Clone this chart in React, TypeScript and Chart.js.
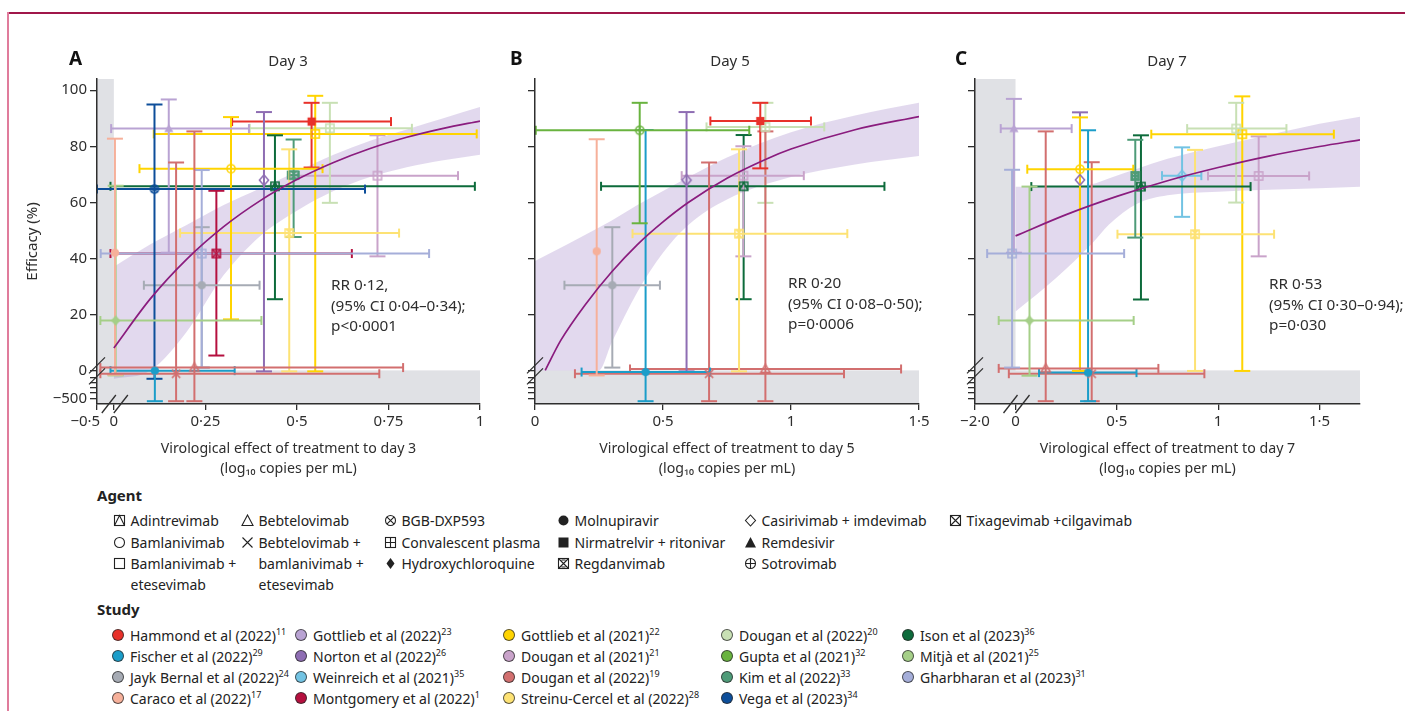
import React, { useEffect, useRef } from 'react';
import { Chart, registerables } from 'chart.js';
Chart.register(...registerables);

const FONT = "'Noto Sans', 'DejaVu Sans', sans-serif";
const INK = '#2e2e2e';
const GREY = '#e0e1e5';
const BAND = 'rgba(150,120,195,0.28)';
const CURVE = '#8a1c7e';

// ---------- legend data ----------
const STUDY_NAMES = [
  'Hammond et al (2022)', 'Fischer et al (2022)', 'Jayk Bernal et al (2022)', 'Caraco et al (2022)',
  'Gottlieb et al (2022)', 'Norton et al (2022)', 'Weinreich et al (2021)', 'Montgomery et al (2022)',
  'Gottlieb et al (2021)', 'Dougan et al (2021)', 'Dougan et al (2022)', 'Streinu-Cercel et al (2022)',
  'Dougan et al (2022)', 'Gupta et al (2021)', 'Kim et al (2022)', 'Vega et al (2023)',
  'Ison et al (2023)', 'Mitjà et al (2021)', 'Gharbharan et al (2023)',
];
const STUDY_REFS = ['11', '29', '24', '17', '23', '26', '35', '1', '22', '21', '19', '28', '20', '32', '33', '34', '36', '25', '31'];
const STUDY_COLORS = [
  '#e8312a', '#1b9dc9', '#a6abb4', '#f6b09a',
  '#b9a3d3', '#8e6db3', '#72c3e3', '#b5103f',
  '#ffd400', '#c9a3ca', '#d26f6f', '#fde274',
  '#c8e0b4', '#69b33f', '#4e9b78', '#0d4e9a',
  '#0d6b3b', '#a5cf88', '#a5aed9',
];

const AGENT_NAMES = [
  'Adintrevimab', 'Bamlanivimab', 'Bamlanivimab +\netesevimab', 'Bebtelovimab',
  'Bebtelovimab +\nbamlanivimab +\netesevimab', 'BGB-DXP593', 'Convalescent plasma', 'Hydroxychloroquine',
  'Molnupiravir', 'Nirmatrelvir + ritonivar', 'Regdanvimab', 'Casirivimab + imdevimab',
  'Remdesivir', 'Sotrovimab', 'Tixagevimab +cilgavimab',
];
const AGENT_MARKERS = [
  'adin', 'circleOpen', 'squareOpen', 'triOpen', 'x', 'bgb', 'plasma', 'diamondFill',
  'circleFill', 'squareFill', 'regdan', 'diamondOpen', 'triFill', 'sotro', 'tixa',
];

// ---------- Day 3 ----------
const DAY3_STUDY = [10, 10, 3, 17, 1, 15, 4, 18, 2, 7, 8, 5, 16, 11, 14, 0, 8, 12, 9];
const DAY3_AGENT = [4, 3, 8, 7, 8, 5, 12, 6, 8, 14, 1, 11, 0, 10, 10, 9, 2, 2, 2];
const DAY3_X = [0.17, 0.22, 0.003, 0.005, 0.112, 0.111, 0.15, 0.24, 0.24, 0.28, 0.32, 0.41, 0.44, 0.479, 0.491, 0.54, 0.55, 0.59, 0.72];
const DAY3_Y = [-60, 1, 42, 17.8, -5, 64.7, 86.3, 41.7, 30.4, 41.7, 72, 67.9, 65.7, 49, 69.7, 88.8, 84.4, 86.4, 69.5];
const DAY3_X_LO = [-0.4, -0.4, null, -0.4, -0.1, -0.5, -0.08, -0.39, 0.082, -0.1, 0.07, null, -0.1, 0.181, 0.475, 0.323, 0.109, 0.371, 0.48];
const DAY3_X_HI = [0.725, 0.79, null, 0.403, 0.33, 0.686, 0.369, 0.861, 0.398, 0.65, 0.57, null, 0.986, 0.779, 0.505, 0.757, 0.991, 0.814, 0.94];
const DAY3_Y_LO = [-550, -550, -77, -90, -550, -150, 42, 1, 1, 5.3, 18.2, -18, 25.4, -18, 47.6, 72.4, -18, 59.8, 40.7];
const DAY3_Y_HI = [74.2, 85.3, 82.7, 65.9, null, 94.9, 96.7, 71.5, 51.1, 64.1, 90.4, 92.2, 83.9, 78.9, 82.4, 95.5, 98, 95.5, 83.9];
const DAY3_FIT_X = [0, 0.1, 0.2, 0.3, 0.4, 0.5, 0.6, 0.7, 0.8, 0.9, 1];
const DAY3_FIT = [8, 25.6, 39.8, 51.3, 60.6, 68.1, 74.2, 79.2, 83.2, 86.4, 89];
const DAY3_CI_X = [0, 0.1, 0.2, 0.3, 0.4, 0.5, 0.6, 0.7, 0.8, 0.9, 1];
const DAY3_CI_HI = [37, 45, 52, 59, 65, 71, 77, 82, 86, 90, 94];
const DAY3_CI_LO = [-150, 0, 14, 34, 48, 57, 64, 69, 72.5, 75, 77];
const DAY3_X_TICKS = [-0.5, 0, 0.25, 0.5, 0.75, 1];
const DAY3_X_LABELS = ['−0·5      ', '0', '0·25', '0·5', '0·75', '1'];

// ---------- Day 5 ----------
const DAY5_STUDY = [3, 2, 13, 1, 5, 10, 11, 9, 16, 0, 10, 12];
const DAY5_AGENT = [8, 8, 13, 8, 11, 4, 10, 2, 0, 9, 3, 2];
const DAY5_X = [0.241, 0.302, 0.409, 0.432, 0.592, 0.68, 0.797, 0.814, 0.815, 0.88, 0.9, 0.9];
const DAY5_Y = [42.5, 30.4, 85.7, -30, 67.9, -60, 48.8, 69.5, 65.7, 89, 0.5, 86.9];
const DAY5_X_LO = [null, 0.115, 0.003, 0.182, null, 0.156, 0.381, 0.573, 0.258, 0.685, 0.371, 0.67];
const DAY5_X_HI = [null, 0.488, 0.837, 0.684, null, 1.207, 1.22, 1.05, 1.365, 1.078, 1.43, 1.13];
const DAY5_Y_LO = [-90, 1, 52.5, -550, -18, -550, -18, 40.7, 25.4, 72.1, -550, 59.8];
const DAY5_Y_HI = [82.5, 51.1, 95.5, 85.8, 92.2, 74.2, 78.9, 80, 84, 95.5, 85.3, 95.5];
const DAY5_FIT_X = [0.04, 0.1, 0.2, 0.3, 0.4, 0.5, 0.6, 0.75, 0.9, 1, 1.25, 1.5];
const DAY5_FIT = [0, 10.6, 23.9, 35.2, 44.9, 53, 60, 68.6, 75.3, 79, 85.9, 90.6];
const DAY5_CI_X = [0, 0.25, 0.3, 0.4, 0.5, 0.6, 0.75, 1, 1.25, 1.5];
const DAY5_CI_HI = [39, 51, 53.5, 59, 64, 69, 76, 85, 91, 95.5];
const DAY5_CI_LO = [0, 0, 10, 28, 42, 52, 61, 69, 73.5, 76.5];
const DAY5_X_TICKS = [0, 0.5, 1, 1.5];
const DAY5_X_LABELS = ['0', '0·5', '1', '1·5'];

// ---------- Day 7 ----------
const DAY7_STUDY = [18, 4, 17, 10, 8, 5, 1, 10, 14, 16, 6, 11, 12, 8, 9];
const DAY7_AGENT = [6, 12, 7, 3, 1, 11, 8, 4, 10, 0, 11, 10, 2, 2, 2];
const DAY7_X = [-0.17, -0.08, 0.069, 0.149, 0.318, 0.318, 0.358, 0.376, 0.591, 0.619, 0.822, 0.886, 1.089, 1.119, 1.2];
const DAY7_Y = [41.7, 86.3, 17.8, 0.7, 71.8, 68, -40, -60, 69.4, 65.6, 69.5, 48.6, 86.3, 84.3, 69.4];
const DAY7_X_LO = [-1.4, -0.73, -0.83, -0.83, 0.058, null, 0.116, -0.33, 0.575, 0.078, 0.723, 0.503, 0.847, 0.67, 0.95];
const DAY7_X_HI = [0.536, 0.277, 0.583, 0.705, 0.581, null, 0.597, 0.932, 0.605, 1.16, 0.917, 1.276, 1.337, 1.571, 1.449];
const DAY7_Y_LO = [1, 42, -95, -550, -10, -10, -550, -550, 47.4, 25.3, 54.8, -10, 59.9, -10, 40.7];
const DAY7_Y_HI = [71.6, 96.9, 65.6, 85.3, 90.3, 92.1, 85.7, 74.3, 82.3, 83.9, 79.6, 78.7, 95.5, 97.8, 83.5];
const DAY7_FIT_X = [0, 0.25, 0.5, 0.75, 1, 1.25, 1.5, 1.7];
const DAY7_FIT = [48, 55.6, 62.1, 67.7, 72.4, 76.5, 79.9, 82.3];
const DAY7_CI_X = [0, 0.2, 0.38, 0.46, 0.6, 0.75, 1, 1.25, 1.5, 1.7];
const DAY7_CI_HI = [65.5, 65.6, 66.5, 68.5, 72, 75.5, 80, 84, 88, 90.5];
const DAY7_CI_LO = [21, 33, 45.5, 52, 59.5, 62.5, 63.8, 64.5, 65, 65.5];
const DAY7_X_TICKS = [-2.0, 0, 0.5, 1, 1.5];
const DAY7_X_LABELS = ['−2·0', '0', '0·5', '1', '1·5'];

// ---------- shared y axis ----------
const Y_TICKS = [-500, -405, -315, -225, -135, 0, 20, 40, 60, 80, 100];
const Y_TICK_LABELS = ['−500', '', '', '', '', '0', '20', '40', '60', '80', '100'];

type Arr = (number | null)[];
interface PanelCfg {
  letter: string; day: string; dayNum: number; rr: string[];
  study: number[]; agent: number[]; x: number[]; y: number[];
  xLo: Arr; xHi: Arr; yLo: Arr; yHi: Arr;
  fitX: number[]; fit: number[]; ciX: number[]; ciHi: number[]; ciLo: number[];
  xTicks: number[]; xLabels: string[];
  left: number; width: number; yAxisW: number; padRight: number; xMax: number; negScale: number;
  vertGrey: boolean; xBreak: boolean; yLabels: boolean; letterX: number; dayX: number; rrX: number; rrY: number;
}

const PANELS: PanelCfg[] = [
  {
    letter: 'A', day: 'Day 3', dayNum: 3, rr: ['RR 0·12,', '(95% CI 0·04–0·34);', 'p<0·0001'],
    study: DAY3_STUDY, agent: DAY3_AGENT, x: DAY3_X, y: DAY3_Y, xLo: DAY3_X_LO, xHi: DAY3_X_HI, yLo: DAY3_Y_LO, yHi: DAY3_Y_HI,
    fitX: DAY3_FIT_X, fit: DAY3_FIT, ciX: DAY3_CI_X, ciHi: DAY3_CI_HI, ciLo: DAY3_CI_LO,
    xTicks: DAY3_X_TICKS, xLabels: DAY3_X_LABELS,
    left: 20, width: 475, yAxisW: 77, padRight: 15, xMax: 1, negScale: 0.092,
    vertGrey: true, xBreak: true, yLabels: true, letterX: 77, dayX: 288, rrX: 331, rrY: 274,
  },
  {
    letter: 'B', day: 'Day 5', dayNum: 5, rr: ['RR 0·20', '(95% CI 0·08–0·50);', 'p=0·0006'],
    study: DAY5_STUDY, agent: DAY5_AGENT, x: DAY5_X, y: DAY5_Y, xLo: DAY5_X_LO, xHi: DAY5_X_HI, yLo: DAY5_Y_LO, yHi: DAY5_Y_HI,
    fitX: DAY5_FIT_X, fit: DAY5_FIT, ciX: DAY5_CI_X, ciHi: DAY5_CI_HI, ciLo: DAY5_CI_LO,
    xTicks: DAY5_X_TICKS, xLabels: DAY5_X_LABELS,
    left: 500, width: 435, yAxisW: 35, padRight: 16, xMax: 1.5, negScale: 1,
    vertGrey: false, xBreak: false, yLabels: false, letterX: 518, dayX: 730, rrX: 788, rrY: 272,
  },
  {
    letter: 'C', day: 'Day 7', dayNum: 7, rr: ['RR 0·53', '(95% CI 0·30–0·94);', 'p=0·030'],
    study: DAY7_STUDY, agent: DAY7_AGENT, x: DAY7_X, y: DAY7_Y, xLo: DAY7_X_LO, xHi: DAY7_X_HI, yLo: DAY7_Y_LO, yHi: DAY7_Y_HI,
    fitX: DAY7_FIT_X, fit: DAY7_FIT, ciX: DAY7_CI_X, ciHi: DAY7_CI_HI, ciLo: DAY7_CI_LO,
    xTicks: DAY7_X_TICKS, xLabels: DAY7_X_LABELS,
    left: 940, width: 465, yAxisW: 35, padRight: 45, xMax: 1.7, negScale: 0.1,
    vertGrey: true, xBreak: true, yLabels: false, letterX: 963, dayX: 1167, rrX: 1269, rrY: 273,
  },
];

const CANVAS_TOP = 40;
const CANVAS_H = 440;
const AREA_TOP = 39;
const AREA_BOTTOM = 364;

function makeMarker(kind: string, color: string): HTMLCanvasElement {
  const s = 14;
  const c = document.createElement('canvas');
  c.width = s; c.height = s;
  const g = c.getContext('2d')!;
  g.strokeStyle = color; g.fillStyle = color; g.lineWidth = 1.5;
  const m = s / 2, r = 4.1;
  const line = (x1: number, y1: number, x2: number, y2: number) => { g.beginPath(); g.moveTo(x1, y1); g.lineTo(x2, y2); g.stroke(); };
  const circ = () => { g.beginPath(); g.arc(m, m, r, 0, Math.PI * 2); };
  const tri = () => { g.beginPath(); g.moveTo(m, m - r - 0.5); g.lineTo(m + r + 0.5, m + r - 0.5); g.lineTo(m - r - 0.5, m + r - 0.5); g.closePath(); };
  const dia = () => { g.beginPath(); g.moveTo(m, m - r - 1.2); g.lineTo(m + r + 0.5, m); g.lineTo(m, m + r + 1.2); g.lineTo(m - r - 0.5, m); g.closePath(); };
  switch (kind) {
    case 'circleOpen': circ(); g.stroke(); break;
    case 'circleFill': circ(); g.fill(); break;
    case 'squareOpen': g.strokeRect(m - r, m - r, 2 * r, 2 * r); break;
    case 'squareFill': g.fillRect(m - r, m - r, 2 * r, 2 * r); break;
    case 'triOpen': tri(); g.stroke(); break;
    case 'triFill': tri(); g.fill(); break;
    case 'diamondOpen': dia(); g.stroke(); break;
    case 'diamondFill': dia(); g.fill(); break;
    case 'x': line(m - r, m - r, m + r, m + r); line(m + r, m - r, m - r, m + r); break;
    case 'bgb': circ(); g.stroke(); line(m - 3, m - 3, m + 3, m + 3); line(m + 3, m - 3, m - 3, m + 3); break;
    case 'sotro': circ(); g.stroke(); line(m - r, m, m + r, m); line(m, m - r, m, m + r); break;
    case 'plasma': g.strokeRect(m - r, m - r, 2 * r, 2 * r); line(m - r, m, m + r, m); line(m, m - r, m, m + r); break;
    case 'tixa': g.strokeRect(m - r, m - r, 2 * r, 2 * r); line(m - r, m - r, m + r, m + r); line(m + r, m - r, m - r, m + r); break;
    case 'regdan':
      g.strokeRect(m - r, m - r, 2 * r, 2 * r);
      g.beginPath(); g.moveTo(m - r, m - r); g.lineTo(m + r, m - r); g.lineTo(m, m); g.closePath(); g.fill();
      g.beginPath(); g.moveTo(m - r, m + r); g.lineTo(m + r, m + r); g.lineTo(m, m); g.closePath(); g.fill();
      break;
    case 'adin':
      g.strokeRect(m - r, m - r, 2 * r, 2 * r); line(m - r, m + r, m, m - r); line(m, m - r, m + r, m + r); break;
  }
  return c;
}

function PanelChart({ p }: { p: PanelCfg }) {
  const ref = useRef<HTMLCanvasElement>(null);
  useEffect(() => {
    const cv = ref.current!;
    const xd = (v: number) => (v < 0 ? v * p.negScale : v);
    const yd = (v: number) => (v < 0 ? v / 50 : v);
    const datasets: any[] = [];
    datasets.push({
      type: 'line', data: p.ciX.map((x, i) => ({ x: xd(x), y: yd(p.ciHi[i]) })),
      borderWidth: 0, borderColor: 'transparent', pointRadius: 0, fill: '+1', backgroundColor: BAND,
      cubicInterpolationMode: 'monotone', order: 40,
    });
    datasets.push({
      type: 'line', data: p.ciX.map((x, i) => ({ x: xd(x), y: yd(p.ciLo[i]) })),
      borderWidth: 0, borderColor: 'transparent', pointRadius: 0, fill: false,
      cubicInterpolationMode: 'monotone', order: 41,
    });
    datasets.push({
      type: 'line', data: p.fitX.map((x, i) => ({ x: xd(x), y: yd(p.fit[i]) })),
      borderWidth: 1.7, borderColor: CURVE, pointRadius: 0, fill: false,
      cubicInterpolationMode: 'monotone', order: 1,
    });
    p.study.forEach((s, i) => {
      const col = STUDY_COLORS[s];
      const x = p.x[i], y = p.y[i];
      const xl = p.xLo[i], xh = p.xHi[i], yl = p.yLo[i], yh = p.yHi[i];
      if (xl !== null && xh !== null) {
        datasets.push({
          type: 'scatter', showLine: true, data: [{ x: xd(xl), y: yd(y) }, { x: xd(xh), y: yd(y) }],
          borderColor: col, borderWidth: 2, pointStyle: 'line', pointRotation: 90, pointRadius: 4.5,
          pointBorderWidth: 2, pointBorderColor: col, order: 3, clip: 10,
        });
      }
      if (yl !== null) {
        datasets.push({
          type: 'scatter', showLine: true, data: [{ x: xd(x), y: yd(yl) }, { x: xd(x), y: yd(yh === null ? y : yh) }],
          borderColor: col, borderWidth: 2, pointStyle: 'line', pointRotation: 0, pointRadius: [8, yh === null ? 0 : 8],
          pointBorderWidth: 2, pointBorderColor: col, order: 3, clip: 10,
        });
      }
      datasets.push({
        type: 'scatter', data: [{ x: xd(x), y: yd(y) }], pointStyle: makeMarker(AGENT_MARKERS[p.agent[i]], col),
        pointRadius: 5, order: 2, clip: 10,
      });
    });

    const greyPlugin = {
      id: 'greyRegions',
      beforeDraw(chart: any) {
        const { ctx, chartArea: a, scales } = chart;
        const y0 = scales.y.getPixelForValue(0);
        ctx.save();
        ctx.fillStyle = GREY;
        ctx.fillRect(a.left, y0, a.right - a.left, a.bottom - y0);
        if (p.vertGrey) {
          const x0 = scales.x.getPixelForValue(0);
          ctx.fillRect(a.left, a.top, x0 - a.left, a.bottom - a.top);
        }
        ctx.restore();
      },
    };
    const breakPlugin = {
      id: 'axisBreaks',
      afterDraw(chart: any) {
        const { ctx, chartArea: a, scales } = chart;
        const y0 = scales.y.getPixelForValue(0);
        ctx.save();
        ctx.strokeStyle = INK; ctx.lineWidth = 1.3;
        for (const dy of [-5, 6]) {
          ctx.beginPath(); ctx.moveTo(a.left - 8, y0 + dy + 8); ctx.lineTo(a.left + 8, y0 + dy - 8); ctx.stroke();
        }
        if (p.xBreak) {
          const x0 = scales.x.getPixelForValue(0);
          for (const dx of [-5, 7]) {
            ctx.beginPath(); ctx.moveTo(x0 + dx - 7, a.bottom + 9); ctx.lineTo(x0 + dx + 7, a.bottom - 9); ctx.stroke();
          }
        }
        ctx.restore();
      },
    };

    const chart = new Chart(cv, {
      type: 'scatter',
      data: { datasets },
      plugins: [greyPlugin, breakPlugin],
      options: {
        animation: false, responsive: false, devicePixelRatio: 1, events: [],
        layout: { padding: { top: AREA_TOP, right: p.padRight, left: 0, bottom: 0 } },
        plugins: { legend: { display: false }, tooltip: { enabled: false } },
        scales: {
          x: {
            type: 'linear', min: xd(p.xTicks[0]), max: p.xMax,
            afterBuildTicks: (s: any) => { s.ticks = p.xTicks.map((v) => ({ value: xd(v) })); },
            afterFit: (s: any) => { s.height = CANVAS_H - AREA_BOTTOM; s.paddingLeft = 0; s.paddingRight = 0; },
            ticks: {
              autoSkip: false, maxRotation: 0, minRotation: 0, padding: 3, color: INK,
              font: { size: 15, family: FONT },
              callback: (_v: any, i: number) => p.xLabels[i],
            },
            grid: { display: true, drawOnChartArea: false, drawTicks: true, tickLength: 6, color: INK, lineWidth: 1.3 },
            border: { display: true, color: INK, width: 1.5, z: 1 },
            title: {
              display: true, color: INK,
              text: [`Virological effect of treatment to day ${p.dayNum}`, '(log₁₀ copies per mL)'],
              font: { size: 14.2, family: FONT, lineHeight: 1.42 }, padding: { top: 0, bottom: 1 },
            },
          },
          y: {
            type: 'linear', min: -12, max: 104,
            afterBuildTicks: (s: any) => { s.ticks = Y_TICKS.map((v) => ({ value: yd(v) })); },
            afterFit: (s: any) => { s.width = p.yAxisW; s.paddingTop = 0; s.paddingBottom = 0; },
            ticks: {
              autoSkip: false, padding: 3, color: INK, font: { size: 15, family: FONT },
              callback: (_v: any, i: number) => (p.yLabels ? Y_TICK_LABELS[i] : ''),
            },
            grid: { display: true, drawOnChartArea: false, drawTicks: true, tickLength: 7, color: INK, lineWidth: 1.3 },
            border: { display: true, color: INK, width: 1.5, z: 1 },
            title: {
              display: p.yLabels, text: 'Efficacy (%)', color: INK,
              font: { size: 15, family: FONT }, padding: { top: 4, bottom: 0 },
            },
          },
        },
      } as any,
    });
    return () => chart.destroy();
  }, [p]);
  return (
    <canvas ref={ref} width={p.width} height={CANVAS_H}
      style={{ position: 'absolute', left: p.left, top: CANVAS_TOP, width: p.width, height: CANVAS_H }} />
  );
}

function AgentIcon({ kind }: { kind: string }) {
  const m = 6.5, r = 5;
  const st: any = { fill: 'none', stroke: '#222', strokeWidth: 1.1 };
  const fl: any = { fill: '#222', stroke: 'none' };
  const box = <rect x={m - r} y={m - r} width={2 * r} height={2 * r} {...st} />;
  let el: any = null;
  switch (kind) {
    case 'circleOpen': el = <circle cx={m} cy={m} r={r} {...st} />; break;
    case 'circleFill': el = <circle cx={m} cy={m} r={r} {...fl} />; break;
    case 'squareOpen': el = box; break;
    case 'squareFill': el = <rect x={m - r} y={m - r} width={2 * r} height={2 * r} {...fl} />; break;
    case 'triOpen': el = <polygon points={`${m},${m - r - 0.5} ${m + r + 0.5},${m + r} ${m - r - 0.5},${m + r}`} {...st} />; break;
    case 'triFill': el = <polygon points={`${m},${m - r - 0.5} ${m + r + 0.5},${m + r} ${m - r - 0.5},${m + r}`} {...fl} />; break;
    case 'diamondOpen': el = <polygon points={`${m},${m - r - 0.5} ${m + r},${m} ${m},${m + r + 0.5} ${m - r},${m}`} {...st} />; break;
    case 'diamondFill': el = <polygon points={`${m},${m - r - 0.5} ${m + r - 1},${m} ${m},${m + r + 0.5} ${m - r + 1},${m}`} {...fl} />; break;
    case 'x': el = <path d={`M${m - r},${m - r}L${m + r},${m + r}M${m + r},${m - r}L${m - r},${m + r}`} {...st} />; break;
    case 'bgb': el = <g><circle cx={m} cy={m} r={r} {...st} /><path d={`M${m - 3.4},${m - 3.4}L${m + 3.4},${m + 3.4}M${m + 3.4},${m - 3.4}L${m - 3.4},${m + 3.4}`} {...st} /></g>; break;
    case 'sotro': el = <g><circle cx={m} cy={m} r={r} {...st} /><path d={`M${m - r},${m}L${m + r},${m}M${m},${m - r}L${m},${m + r}`} {...st} /></g>; break;
    case 'plasma': el = <g>{box}<path d={`M${m - r},${m}L${m + r},${m}M${m},${m - r}L${m},${m + r}`} {...st} /></g>; break;
    case 'tixa': el = <g>{box}<path d={`M${m - r},${m - r}L${m + r},${m + r}M${m + r},${m - r}L${m - r},${m + r}`} {...st} /></g>; break;
    case 'regdan': el = <g>{box}<path d={`M${m - r},${m - r}L${m + r},${m + r}M${m + r},${m - r}L${m - r},${m + r}M${m - 2},${m - r + 1.5}L${m + 2},${m - r + 1.5}M${m - 2},${m + r - 1.5}L${m + 2},${m + r - 1.5}`} {...st} /></g>; break;
    case 'adin': el = <g>{box}<path d={`M${m - r},${m + r}L${m},${m - r}L${m + r},${m + r}`} {...st} /></g>; break;
  }
  return <svg width={13} height={13} style={{ display: 'block' }}>{el}</svg>;
}

const AGENT_COL_X = [119, 247, 390, 563, 750, 955];
const AGENT_ROW_Y = [520, 542, 563];
const AGENT_GRID = [[0, 1, 2], [3, 4], [5, 6, 7], [8, 9, 10], [11, 12, 13], [14]];
const STUDY_COL_X = [118, 301, 509, 727, 908];
const STUDY_ROW_Y = [635, 656, 677, 698];

const textStyle: any = { fontFamily: FONT, fontSize: 14, color: '#222', whiteSpace: 'nowrap' };

export default function App() {
  return (
    <div style={{ position: 'absolute', left: 0, top: 0, width: 1405, height: 711, background: '#fff', overflow: 'hidden', fontFamily: FONT }}>
      <div style={{ position: 'absolute', left: 8, top: 12, width: 1397, height: 2, background: '#a0174a' }} />
      <div style={{ position: 'absolute', left: 7, top: 12, width: 2, height: 699, background: '#e07c9c' }} />
      {PANELS.map((p) => (
        <React.Fragment key={p.letter}>
          <PanelChart p={p} />
          <div style={{ position: 'absolute', left: p.letterX - 8, top: 46, fontSize: 19, fontWeight: 700, color: '#111', lineHeight: '24px' }}>{p.letter}</div>
          <div style={{ position: 'absolute', left: p.dayX - 60, width: 120, top: 49, textAlign: 'center', fontSize: 15, color: INK, lineHeight: '22px' }}>{p.day}</div>
          <div style={{ position: 'absolute', left: p.rrX, top: p.rrY, fontSize: 15.3, color: INK, lineHeight: '20.5px', whiteSpace: 'nowrap' }}>
            {p.rr.map((t, i) => <div key={i}>{t}</div>)}
          </div>
        </React.Fragment>
      ))}
      <div style={{ position: 'absolute', left: 97, top: 484, fontSize: 15, fontWeight: 700, color: '#222', lineHeight: '22px' }}>Agent</div>
      {AGENT_GRID.map((col, ci) => col.map((a, ri) => (
        <div key={`a${a}`} style={{ position: 'absolute', left: AGENT_COL_X[ci] - 6.5, top: AGENT_ROW_Y[ri] - 10.5, display: 'flex', alignItems: 'flex-start' }}>
          <div style={{ height: 21, display: 'flex', alignItems: 'center' }}><AgentIcon kind={AGENT_MARKERS[a]} /></div>
          <div style={{ ...textStyle, marginLeft: 5, lineHeight: '21px', whiteSpace: 'pre' }}>{AGENT_NAMES[a]}</div>
        </div>
      )))}
      <div style={{ position: 'absolute', left: 97, top: 598, fontSize: 15, fontWeight: 700, color: '#222', lineHeight: '22px' }}>Study</div>
      {STUDY_NAMES.map((n, i) => {
        const ci = Math.floor(i / 4), ri = i % 4;
        return (
          <div key={`s${i}`} style={{ position: 'absolute', left: STUDY_COL_X[ci] - 6, top: STUDY_ROW_Y[ri] - 10.5, height: 21, display: 'flex', alignItems: 'center' }}>
            <div style={{ width: 12, height: 12, borderRadius: '50%', background: STUDY_COLORS[i], border: '1px solid rgba(40,40,40,0.75)', boxSizing: 'border-box' }} />
            <div style={{ ...textStyle, marginLeft: 6, lineHeight: '21px' }}>
              {n}<sup style={{ fontSize: 9, verticalAlign: 'super', lineHeight: 0 }}>{STUDY_REFS[i]}</sup>
            </div>
          </div>
        );
      })}
    </div>
  );
}
